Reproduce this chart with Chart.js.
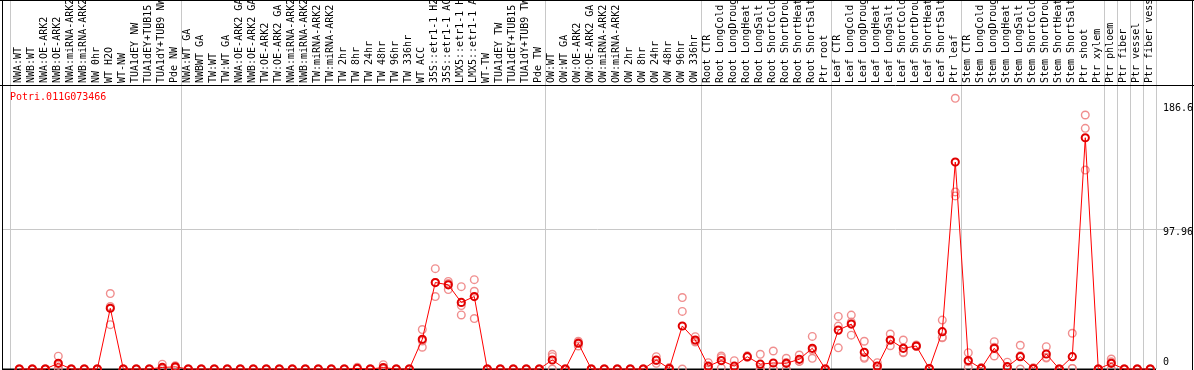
<!DOCTYPE html>
<html>
<head>
<meta charset="utf-8">
<script src="https://cdn.jsdelivr.net/npm/chart.js@4"></script>
<style>
  body { margin: 0; background: #fff; }
  canvas { display: block; }
</style>
</head>
<body>
<canvas id="chart" width="1194" height="370"></canvas>
<script>
const geneName = 'Potri.011G073466';

const categories = [
  'NWA:WT', 'NWB:WT', 'NWA:OE-ARK2', 'NWB:OE-ARK2', 'NWA:miRNA-ARK2', 'NWB:miRNA-ARK2',
  'NW 0hr', 'WT H2O', 'WT-NW', 'TUA1dEY NW', 'TUA1dEY+TUB15', 'TUA1dY+TUB9 NW', 'Pde NW',
  'NWA:WT GA', 'NWBWT GA', 'TW:WT', 'TW:WT GA', 'NWA:OE-ARK2 GA', 'NWB:OE-ARK2 GA',
  'TW:OE-ARK2', 'TW:OE-ARK2 GA', 'NWA:miRNA-ARK2', 'NWB:miRNA-ARK2', 'TW:miRNA-ARK2',
  'TW:miRNA-ARK2', 'TW 2hr', 'TW 8hr', 'TW 24hr', 'TW 48hr', 'TW 96hr', 'TW 336hr',
  'WT ACC', '35S::etr1-1 H2', '35S::etr1-1 AC', 'LMX5::etr1-1 H', 'LMX5::etr1-1 A',
  'WT-TW', 'TUA1dEY TW', 'TUA1dEY+TUB15', 'TUA1dY+TUB9 TW', 'Pde TW',
  'OW:WT', 'OW:WT GA', 'OW:OE-ARK2', 'OW:OE-ARK2 GA', 'OW:miRNA-ARK2', 'OW:miRNA-ARK2',
  'OW 2hr', 'OW 8hr', 'OW 24hr', 'OW 48hr', 'OW 96hr', 'OW 336hr',
  'Root CTR', 'Root LongCold', 'Root LongDroug', 'Root LongHeat', 'Root LongSalt',
  'Root ShortCold', 'Root ShortDrou', 'Root ShortHeat', 'Root ShortSalt', 'Ptr root',
  'Leaf CTR', 'Leaf LongCold', 'Leaf LongDroug', 'Leaf LongHeat', 'Leaf LongSalt',
  'Leaf ShortCold', 'Leaf ShortDrou', 'Leaf ShortHeat', 'Leaf ShortSalt', 'Ptr leaf',
  'Stem CTR', 'Stem LongCold', 'Stem LongDroug', 'Stem LongHeat', 'Stem LongSalt',
  'Stem ShortCold', 'Stem ShortDrou', 'Stem ShortHeat', 'Stem ShortSalt', 'Ptr shoot',
  'Ptr xylem', 'Ptr phloem', 'Ptr fiber', 'Ptr vessel', 'Ptr fiber vess'
];

// first category of each sample group (last entry closes the final group)
const groupStarts = [0, 13, 41, 53, 63, 73, 84, 85, 86, 87, 88];

const meanValues = [
  0, 0, 0, 4, 0, 0, 0, 42.5, 0, 0,
  0, 1.1, 1.5, 0, 0, 0, 0, 0, 0, 0,
  0, 0, 0, 0, 0, 0, 0.4, 0, 1, 0,
  0, 20.8, 60.5, 58.9, 46.6, 50.7, 0, 0, 0, 0,
  0, 6.3, 0, 18, 0, 0, 0, 0, 0, 6.2,
  0.3, 30.1, 20.3, 2, 5.9, 2, 8.6, 3.4, 4.2, 4,
  6.8, 14.5, 0, 27.2, 31.4, 11.7, 2.1, 20.3, 14.5, 16.1,
  0.3, 26.1, 144.8, 5.9, 0.4, 14.5, 1.6, 8.6, 0.3, 10.5,
  0, 8.6, 161.8, 0, 4, 0, 0, 0
];

const rep1 = [
  0, 0, 0, 9, 0, 0, 0, 52.8, 0, 0,
  0, 3.4, 2.3, 0, 0, 0, 0, 0, 0, 0,
  0, 0, 0, 0, 0, 0, 1.2, 0, 3, 0,
  0, 27.6, 70.2, 59.8, 57.6, 62.5, 0, 0, 0, 0,
  0, 10.3, 0, 19.4, 0, 0, 0, 0, 0, 8.6,
  1, 50, 22.6, 4.4, 9.1, 5.8, 9.2, 10.3, 12.6, 7.5,
  9.8, 22.8, 0, 36.8, 37.7, 19.4, 4.4, 24.5, 20.3, 16.8,
  0.5, 34.2, 189.4, 11.4, 1, 19.1, 4.8, 16.6, 0.8, 15.6,
  0, 25, 177.7, 0, 7, 0, 0, 0
];

const rep2 = [
  0, 0, 0, 2.5, 0, 0, 0, 31, 0, 0,
  0, 0, 1.5, 0, 0, 0, 0, 0, 0, 0,
  0, 0, 0, 0, 0, 0, 0, 0, 0, 0,
  0, 15.2, 50.7, 55.6, 44.4, 54.4, 0, 0, 0, 0,
  0, 8.6, 0, 16.1, 0, 0, 0, 0, 0, 6,
  0, 40.3, 18.9, 1.2, 7.9, 0.2, 8.4, 0, 0, 4.5,
  5.3, 7.5, 0, 30, 32.8, 7.5, 1.9, 16.3, 11.4, 15.8,
  0.3, 22.2, 123.9, 5, 0.2, 9.1, 0, 9.2, 0, 8.2,
  0, 0.4, 168.4, 0, 5, 0, 0, 0
];

const rep3 = [
  0, 0, 0, 0.5, 0, 0, 0, 43.7, 0, 0,
  0, 0, 0.7, 0, 0, 0, 0, 0, 0, 0,
  0, 0, 0, 0, 0, 0, 0, 0, 0, 0,
  0, 19.6, 60.6, 61.3, 37.8, 35.3, 0, 0, 0, 0,
  0, 0, 0, 18.5, 0, 0, 0, 0, 0, 4,
  0, 0, 19.4, 0.4, 0.7, 0, 8.2, 0, 0, 0,
  5.3, 13.2, 0, 14.8, 23.7, 8.2, 0, 20.1, 11.8, 15.7,
  0, 21.9, 121.1, 1.3, 0, 15.3, 0, 0, 0, 7.7,
  0, 0.4, 139.2, 0, 0, 0, 0, 0
];

const yTickLabels = [186.6, 97.96, 0];
const yGridValue = 97.96;

const toPoints = arr => arr.map((v, i) => ({ x: i, y: v }));

const replicatePoints = [].concat(toPoints(rep1), toPoints(rep2), toPoints(rep3));

const monoFont = '10px "DejaVu Sans Mono", "Liberation Mono", monospace';

// grid, frame, rotated sample names and value labels
const decorations = {
  id: 'decorations',
  beforeDraw(chart) {
    const c = chart.ctx;
    c.save();
    c.fillStyle = '#fff';
    c.fillRect(0, 0, chart.width, chart.height);
    c.restore();
  },
  beforeDatasetsDraw(chart) {
    const c = chart.ctx;
    const xs = chart.scales.x;
    const ys = chart.scales.y;
    const area = chart.chartArea;
    c.save();

    // vertical group separators
    c.strokeStyle = '#c8c8c8';
    c.lineWidth = 1;
    groupStarts.forEach((k, n) => {
      const off = n === 0 ? 9.3 : 7.7;
      const px = Math.round(xs.getPixelForValue(k) - off) + 0.5;
      c.beginPath();
      c.moveTo(px, 0);
      c.lineTo(px, area.bottom);
      c.stroke();
    });

    // horizontal grid line
    const gy = Math.round(ys.getPixelForValue(yGridValue)) + 0.5;
    c.beginPath();
    c.moveTo(2, gy);
    c.lineTo(chart.width - 1, gy);
    c.stroke();

    // frame
    c.strokeStyle = '#000';
    c.beginPath();
    c.moveTo(2.5, 0); c.lineTo(2.5, chart.height);
    c.moveTo(chart.width - 1.5, 0); c.lineTo(chart.width - 1.5, chart.height);
    c.moveTo(0, 0.5); c.lineTo(chart.width, 0.5);
    c.moveTo(0, area.top + 0.5); c.lineTo(chart.width, area.top + 0.5);
    c.stroke();
    c.lineWidth = 2;
    c.beginPath();
    c.moveTo(2, area.bottom + 0.5); c.lineTo(area.right, area.bottom + 0.5);
    c.stroke();

    // rotated category labels
    c.fillStyle = '#000';
    c.font = monoFont;
    c.textAlign = 'left';
    c.textBaseline = 'middle';
    categories.forEach((name, i) => {
      const px = xs.getPixelForValue(i) - 0.5;
      c.save();
      c.beginPath();
      c.rect(0, 0, chart.width, area.top);
      c.clip();
      c.translate(px, area.top - 2);
      c.rotate(-Math.PI / 2);
      c.fillText(name, 0, 0);
      c.restore();
    });

    // value labels on the right
    const labelShift = [6.5, 3.5, -7];
    yTickLabels.forEach((v, n) => {
      c.fillText(String(v), 1163, ys.getPixelForValue(v) + labelShift[n]);
    });

    // gene name
    c.fillStyle = '#ff0000';
    c.textBaseline = 'alphabetic';
    c.fillText(geneName, 10, 100);
    c.restore();
  }
};

new Chart(document.getElementById('chart'), {
  type: 'line',
  data: {
    datasets: [
      {
        type: 'line',
        label: 'mean',
        data: toPoints(meanValues),
        borderColor: '#ff0000',
        borderWidth: 1,
        tension: 0,
        pointRadius: 3.6,
        pointBorderWidth: 2,
        pointBorderColor: '#e00000',
        pointBackgroundColor: 'rgba(0,0,0,0)',
        clip: false,
        order: 1
      },
      {
        type: 'scatter',
        label: 'replicates',
        data: replicatePoints,
        showLine: false,
        pointRadius: 3.8,
        pointBorderWidth: 1.4,
        pointBorderColor: 'rgba(238,130,130,0.9)',
        pointBackgroundColor: 'rgba(0,0,0,0)',
        clip: false,
        order: 2
      }
    ]
  },
  options: {
    responsive: false,
    animation: false,
    devicePixelRatio: 1,
    layout: { autoPadding: false, padding: { left: 2, right: 38, top: 85, bottom: 1 } },
    plugins: {
      legend: { display: false },
      tooltip: { enabled: false }
    },
    scales: {
      x: { type: 'linear', min: -1.331, max: 87.44, display: false },
      y: { type: 'linear', min: 0, max: 198.7, display: false }
    }
  },
  plugins: [decorations]
});
</script>
</body>
</html>
